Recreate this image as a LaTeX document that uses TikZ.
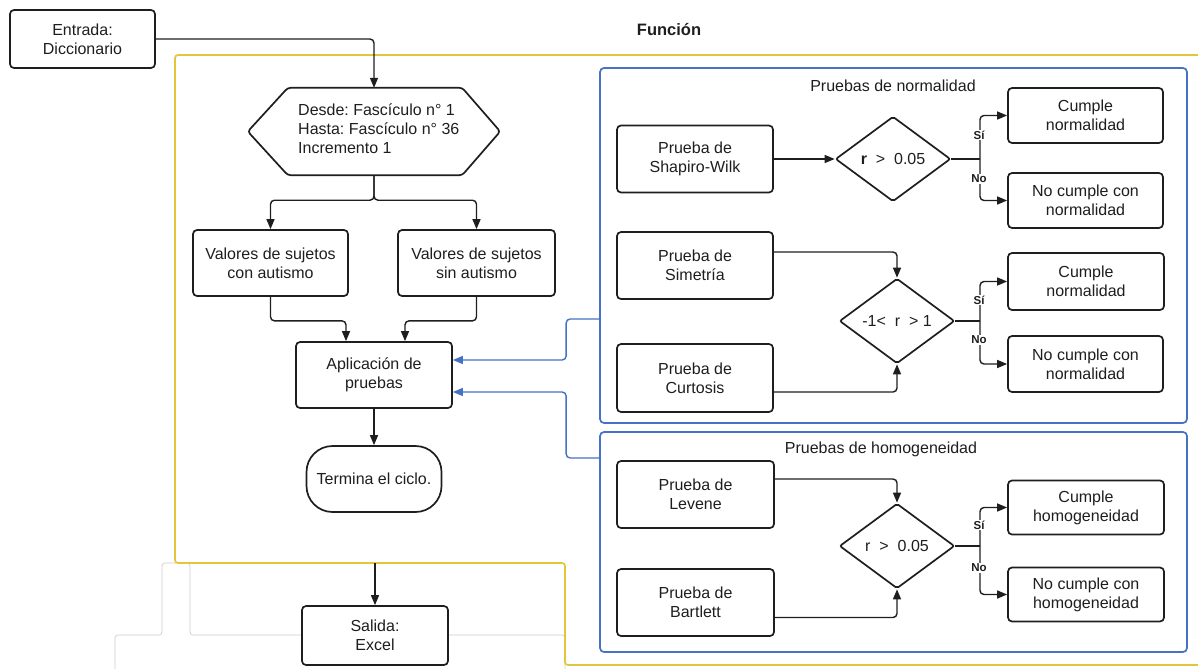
\documentclass[tikz,border=0pt]{standalone}
\usepackage{fontspec}
\setmainfont{Liberation Sans}
\usetikzlibrary{arrows.meta,calc,shapes.geometric}
\frenchspacing
\definecolor{ink}{RGB}{30,30,30}
\definecolor{frameblue}{RGB}{68,114,196}
\definecolor{frameyellow}{RGB}{228,198,60}
\definecolor{faint}{RGB}{205,205,205}
\tikzset{
  txt/.style={font=\fontsize{16}{19}\selectfont, text=ink},
  box/.style={txt, draw=ink, line width=1.7pt, rounded corners=4pt, align=center, inner sep=0pt},
  decision/.style={txt, draw=ink, line width=1.7pt, diamond, rounded corners=2pt, inner sep=0pt,
    minimum width=115pt, minimum height=85pt},
  frame/.style={draw=frameblue, line width=1.7pt, rounded corners=4pt, inner sep=0pt},
  conn/.style={draw=ink, line width=1.4pt, rounded corners=4pt},
  arr/.style={conn, -{Triangle[length=10pt,width=8pt]}},
  bluearr/.style={draw=frameblue, line width=1.4pt, rounded corners=4pt, -{Triangle[length=10pt,width=8pt]}},
  yesno/.style={font=\bfseries\fontsize{11.5}{13}\selectfont, text=ink, fill=white, inner sep=1pt},
  title/.style={font=\fontsize{16}{19}\selectfont, text=ink},
}
\begin{document}
\begin{tikzpicture}[x=1pt,y=-1pt]
\useasboundingbox (0,0) rectangle (1198,669);

% faint outlines of the page below
\draw[faint, line width=0.7pt, rounded corners=3pt] (115,669) -- (115,635) -- (162,635) -- (162,563) -- (190,563) -- (190,635) -- (302,635);
\draw[faint, line width=0.7pt, rounded corners=3pt] (448,635) -- (565,635) -- (565,669);

% function frame
\draw[frameyellow, line width=1.7pt, rounded corners=3pt] (1198,55) -- (175,55) -- (175,563) -- (565,563) -- (565,665) -- (1198,665);
\node[font=\bfseries\fontsize{16.5}{19}\selectfont, text=ink] (fun) at (669,30) {Función};

% input
\node[box, minimum width=145pt, minimum height=58pt] (ent) at (82.5,39) {Entrada:\\Diccionario};

% loop header
\node[minimum width=252pt, minimum height=87pt, inner sep=0pt] (hex) at (374,131.5) {};
\draw[ink, line width=1.7pt, rounded corners=3pt]
  ($(hex.north west)+(40,0)$) -- ($(hex.north east)+(-38,0)$) -- (hex.east) --
  ($(hex.south east)+(-38,0)$) -- ($(hex.south west)+(40,0)$) -- (hex.west) -- cycle;
\node[txt, align=left, anchor=west, inner sep=0pt] (hextxt) at (298,129) {Desde: Fascículo n° 1\\Hasta: Fascículo n° 36\\Incremento 1};

\node[box, minimum width=155pt, minimum height=66pt] (v1) at (270.5,263) {Valores de sujetos\\con autismo};
\node[box, minimum width=157pt, minimum height=66pt] (v2) at (476.5,263) {Valores de sujetos\\sin autismo};
\node[box, minimum width=156pt, minimum height=66pt] (apl) at (374,375) {Aplicación de\\pruebas};
\node[box, minimum width=135pt, minimum height=66pt, rounded corners=26pt] (term) at (374,479) {Termina el ciclo.};
\node[box, minimum width=146pt, minimum height=59pt] (sal) at (375,635.5) {Salida:\\Excel};

\draw[arr] (ent.east) -| (hex.north);
\draw[arr] (hex.south) -- ++(0,25) -| (v1.north);
\draw[arr] (hex.south) -- ++(0,25) -| (v2.north);
\draw[arr] (v1.south) -- ++(0,24) -| ([xshift=-28pt]apl.north);
\draw[arr] (v2.south) -- ++(0,24) -| ([xshift=31pt]apl.north);
\draw[arr] (apl.south) -- (term.north);
\coordinate (out) at (375,563);
\draw[arr] (out) -- (sal.north);

% normality tests
\node[frame, minimum width=587pt, minimum height=355pt] (nf) at (893.5,245.5) {};
\node[title] (nft) at (893,86) {Pruebas de normalidad};
\node[box, minimum width=156pt, minimum height=67pt] (shap) at (695,159) {Prueba de\\Shapiro-Wilk};
\node[box, minimum width=156pt, minimum height=67pt] (sim) at (695,265.5) {Prueba de\\Simetría};
\node[box, minimum width=156pt, minimum height=68pt] (curt) at (695,378) {Prueba de\\Curtosis};
\node[decision] (d1) at (893,159) {\textbf{r}\ \ >\ \ 0.05};
\node[decision] (d2) at (897,321) {-1<\ \ r\ \ > 1};
\node[box, minimum width=155pt, minimum height=55pt] (c1) at (1085.5,115.5) {Cumple\\normalidad};
\node[box, minimum width=155pt, minimum height=55pt] (nc1) at (1085.5,200.5) {No cumple con\\normalidad};
\node[box, minimum width=156pt, minimum height=57pt] (c2) at (1086,281.5) {Cumple\\normalidad};
\node[box, minimum width=155pt, minimum height=56pt] (nc2) at (1085.5,364) {No cumple con\\normalidad};

\draw[arr] (shap.east) -- (d1.west);
\draw[arr] ([yshift=13.5pt]sim.east) -| (d2.north);
\draw[arr] ([yshift=-14pt]curt.east) -| (d2.south);
\coordinate (j1) at (980,159);
\coordinate (j2) at (980,321);
\draw[conn] (d1.east) -- (j1);
\draw[arr] (j1) |- (c1.west);
\draw[arr] (j1) |- (nc1.west);
\draw[conn] (d2.east) -- (j2);
\draw[arr] (j2) |- (c2.west);
\draw[arr] (j2) |- (nc2.west);
\node[yesno] (s1) at (979,135) {Sí};
\node[yesno] (n1) at (979,179) {No};
\node[yesno] (s2) at (979,300) {Sí};
\node[yesno] (n2) at (979,340) {No};

% homogeneity tests
\node[frame, minimum width=587pt, minimum height=220pt] (hf) at (893.5,542) {};
\node[title] (hft) at (881,449) {Pruebas de homogeneidad};
\node[box, minimum width=157pt, minimum height=67pt] (lev) at (695.5,494.5) {Prueba de\\Levene};
\node[box, minimum width=157pt, minimum height=67pt] (bart) at (695.5,602.5) {Prueba de\\Bartlett};
\node[decision] (d3) at (897,546) {r\ \ >\ \ 0.05};
\node[box, minimum width=156pt, minimum height=54pt] (c3) at (1086,507.5) {Cumple\\homogeneidad};
\node[box, minimum width=156pt, minimum height=54pt] (nc3) at (1086,594.5) {No cumple con\\homogeneidad};

\draw[arr] ([yshift=15.5pt]lev.east) -| (d3.north);
\draw[arr] ([yshift=-15pt]bart.east) -| (d3.south);
\coordinate (j3) at (980,546);
\draw[conn] (d3.east) -- (j3);
\draw[arr] (j3) |- (c3.west);
\draw[arr] (j3) |- (nc3.west);
\node[yesno] (s3) at (979,525) {Sí};
\node[yesno] (n3) at (979,568) {No};

% results fed back to the test step
\draw[bluearr] ([yshift=-73.5pt]nf.west) -- ++(-33,0) |- ([yshift=15pt]apl.east);
\draw[bluearr] ([yshift=84pt]hf.west) -- ++(-33,0) |- ([yshift=-17pt]apl.east);
\end{tikzpicture}
\end{document}
